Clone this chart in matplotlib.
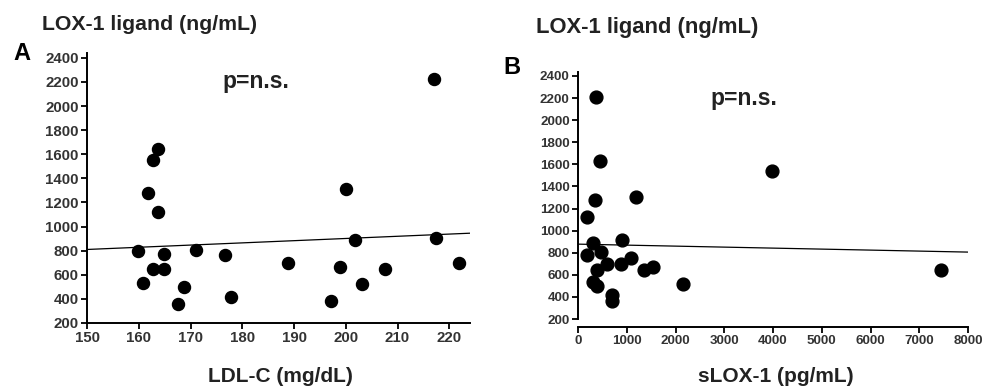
import matplotlib.pyplot as plt

plt.rcParams['font.family'] = ['Liberation Sans', 'DejaVu Sans']

# panel A: LDL-C vs LOX-1 ligand
ldl = [217, 163.8, 162.8, 161.8, 163.8, 200, 159.9, 164.8, 171.1, 176.7, 162.8, 164.8,
       160.9, 168.7, 167.5, 177.9, 188.9, 197.1, 198.8, 201.8, 203.1, 207.5, 217.5, 221.8]
lig_a = [2228, 1642, 1553, 1276, 1124, 1312, 795, 770, 809, 762, 648, 648,
         529, 499, 360, 419, 701, 383, 668, 886, 521, 648, 908, 701]
trend_a_x = [150, 224]
trend_a_y = [810, 945]

# panel B: sLOX-1 vs LOX-1 ligand
slox = [369, 451, 3973, 349, 1197, 178, 315, 896, 178, 479, 588, 889,
        1094, 397, 1361, 1538, 301, 383, 2147, 704, 704, 7439]
lig_b = [2213, 1635, 1544, 1273, 1303, 1125, 884, 911, 779, 803, 700, 700,
         757, 646, 646, 667, 532, 501, 519, 419, 359, 643]
trend_b_x = [0, 8000]
trend_b_y = [878, 806]

W, H = 982, 386
fig = plt.figure(figsize=(W / 100, H / 100), dpi=100)
dark = '#222222'


def style(ax, size):
    for s in ['top', 'right']:
        ax.spines[s].set_visible(False)
    for s in ['left', 'bottom']:
        ax.spines[s].set_linewidth(1.4)
    ax.tick_params(direction='out', length=4, width=1.3, pad=2)
    for lab in ax.get_xticklabels() + ax.get_yticklabels():
        lab.set_fontweight('bold')
        lab.set_color('#333333')
        lab.set_fontsize(size)


axA = fig.add_axes([87 / W, 1 - 323 / H, 383 / W, 270 / H])
axA.scatter(ldl, lig_a, s=75, c='black', zorder=3)
axA.plot(trend_a_x, trend_a_y, color='black', lw=0.9)
axA.set_xlim(150, 224)
axA.set_ylim(200, 2440)
axA.set_xticks(range(150, 221, 10))
axA.set_yticks(range(200, 2401, 200))
style(axA, 10.8)
axA.text(182.6, 2206, 'p=n.s.', ha='center', va='center', fontsize=16.5, fontweight='bold', color=dark)
axA.set_xlabel('LDL-C (mg/dL)', fontsize=15, fontweight='bold', color=dark)
axA.xaxis.set_label_coords((280 - 87) / 383, (323 - 367) / 270)

axB = fig.add_axes([578 / W, 1 - 327 / H, 390 / W, 254 / H])
axB.scatter(slox, lig_b, s=85, c='black', zorder=3)
axB.plot(trend_b_x, trend_b_y, color='black', lw=0.9)
axB.set_xlim(0, 8000)
axB.set_ylim(128, 2427)
axB.set_xticks(range(0, 8001, 1000))
axB.set_yticks(range(200, 2401, 200))
axB.spines['left'].set_bounds(200, 2440)
style(axB, 9.6)
axB.text(3405, 2198, 'p=n.s.', ha='center', va='center', fontsize=16.5, fontweight='bold', color=dark)
axB.set_xlabel('sLOX-1 (pg/mL)', fontsize=15, fontweight='bold', color=dark)
axB.xaxis.set_label_coords((776 - 578) / 390, (327 - 367) / 254)

fig.text(42 / W, 1 - 24 / H, 'LOX-1 ligand (ng/mL)', fontsize=15.3, fontweight='bold', va='center', color=dark)
fig.text(536 / W, 1 - 28 / H, 'LOX-1 ligand (ng/mL)', fontsize=15.8, fontweight='bold', va='center', color=dark)
fig.text(13 / W, 1 - 53 / H, 'A', fontsize=17, fontweight='bold', va='center', color='black')
fig.text(503 / W, 1 - 68 / H, 'B', fontsize=17, fontweight='bold', va='center', color='black')

fig.savefig('out.png', dpi=100)
